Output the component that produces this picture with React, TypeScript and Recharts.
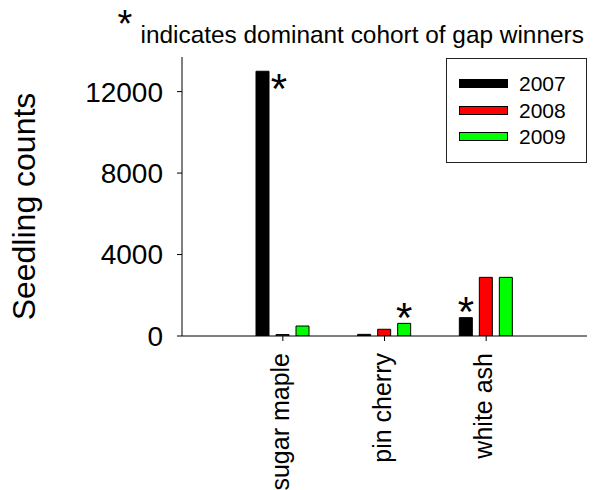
import React from "react";
import {
  BarChart,
  Bar,
  XAxis,
  YAxis,
  Legend,
  LabelList,
} from "recharts";

const species = ["sugar maple", "pin cherry", "white ash"];
const years = ["2007", "2008", "2009"];
const counts2007 = [13000, 80, 900];
const counts2008 = [70, 330, 2880];
const counts2009 = [490, 620, 2880];
// cohort marked with an asterisk for each species
const dominantYear = ["2007", "2009", "2007"];
const yTicks = [0, 4000, 8000, 12000];
const yMax = 13700;

const FONT = '"Liberation Sans", Arial, Helvetica, sans-serif';
const PLOT_TOP = 57;
const STAR_SIZE = 42;

const yearColors: Record<string, string> = {
  "2007": "#000000",
  "2008": "#ff0000",
  "2009": "#00ff00",
};

const data = species.map((name, i) => ({
  species: name,
  "2007": counts2007[i],
  "2008": counts2008[i],
  "2009": counts2009[i],
  dominant: dominantYear[i],
}));

function SpeciesTick(props: any) {
  const { x, y, payload } = props;
  return (
    <text
      x={0}
      y={0}
      transform={`translate(${x + 6}, ${y}) rotate(-90)`}
      textAnchor="end"
      fontSize={25}
      fontFamily={FONT}
      fill="#000"
    >
      {payload.value}
    </text>
  );
}

function YLabel(props: any) {
  const vb = props.viewBox;
  const cx = vb.x + 35;
  const cy = vb.y + vb.height / 2 + 10;
  return (
    <text
      x={0}
      y={0}
      transform={`translate(${cx}, ${cy}) rotate(-90)`}
      textAnchor="middle"
      fontSize={32}
      fontFamily={FONT}
      fill="#000"
    >
      Seedling counts
    </text>
  );
}

// asterisk above the dominant cohort's bar, or beside it when the bar reaches the top
const starFor = (year: string) => (props: any) => {
  const { x, y, width, index } = props;
  if (dominantYear[index] !== year) return null;
  const inkTop = y + 8.6 - 0.716 * STAR_SIZE;
  const beside = inkTop < PLOT_TOP;
  const sx = beside ? x + width + 10 : x + width / 2;
  const sy = beside ? y + 31.6 : y + 8.6;
  return (
    <text
      x={sx}
      y={sy}
      textAnchor="middle"
      fontSize={STAR_SIZE}
      fontFamily={FONT}
      fill="#000"
    >
      *
    </text>
  );
};

function LegendBox() {
  return (
    <div style={{ paddingTop: 11.5, paddingLeft: 12, fontFamily: FONT }}>
      {years.map((yr) => (
        <div
          key={yr}
          style={{ display: "flex", alignItems: "center", height: 26.5 }}
        >
          <div
            style={{
              width: 49,
              height: 9,
              boxSizing: "border-box",
              border: "1px solid #000",
              background: yearColors[yr],
            }}
          />
          <span style={{ marginLeft: 11, fontSize: 21, lineHeight: 1, color: "#000" }}>
            {yr}
          </span>
        </div>
      ))}
    </div>
  );
}

export default function App() {
  return (
    <div
      style={{
        position: "absolute",
        left: 0,
        top: 0,
        width: 596,
        height: 490,
        background: "#fff",
        fontFamily: FONT,
      }}
    >
      <svg
        width={596}
        height={56}
        style={{ position: "absolute", left: 0, top: 0, pointerEvents: "none" }}
      >
        <text x={125} y={37} textAnchor="middle" fontSize={38} fontFamily={FONT} fill="#000">
          *
        </text>
        <text x={140.5} y={43} fontSize={24.4} fontFamily={FONT} fill="#000">
          indicates dominant cohort of gap winners
        </text>
      </svg>
      <BarChart
        width={596}
        height={490}
        data={data}
        margin={{ top: PLOT_TOP, right: 9, bottom: 0, left: 0 }}
        barSize={13}
        barGap={7}
        style={{ fontFamily: FONT }}
      >
        <XAxis
          xAxisId="frame"
          orientation="top"
          type="number"
          dataKey={() => 0}
          domain={[0, 1]}
          ticks={[0, 1]}
          allowDataOverflow
          height={0}
          tickSize={5}
          tickFormatter={() => ""}
          axisLine={{ stroke: "#000" }}
          tickLine={{ stroke: "#000" }}
        />
        <XAxis
          dataKey="species"
          type="category"
          padding={{ left: 50, right: 50 }}
          height={154}
          interval={0}
          tickSize={5}
          tickMargin={12}
          axisLine={{ stroke: "#000" }}
          tickLine={{ stroke: "#000" }}
          tick={<SpeciesTick />}
        />
        <YAxis
          type="number"
          domain={[0, yMax]}
          ticks={yTicks}
          allowDataOverflow
          width={182}
          tickSize={5}
          tickMargin={14}
          axisLine={{ stroke: "#000" }}
          tickLine={{ stroke: "#000" }}
          tick={{ fill: "#000", fontSize: 28, fontFamily: FONT }}
          label={<YLabel />}
        />
        <Legend
          layout="vertical"
          align="center"
          verticalAlign="middle"
          content={<LegendBox />}
          wrapperStyle={{
            left: 446,
            top: 58,
            width: 141,
            height: 105,
            boxSizing: "border-box",
            border: "1px solid #222",
            background: "#fff",
          }}
        />
        {years.map((yr) => (
          <Bar
            key={yr}
            dataKey={yr}
            fill={yearColors[yr]}
            stroke="#000"
            strokeWidth={1}
            isAnimationActive={false}
          >
            <LabelList dataKey={yr} content={starFor(yr)} />
          </Bar>
        ))}
      </BarChart>
    </div>
  );
}
